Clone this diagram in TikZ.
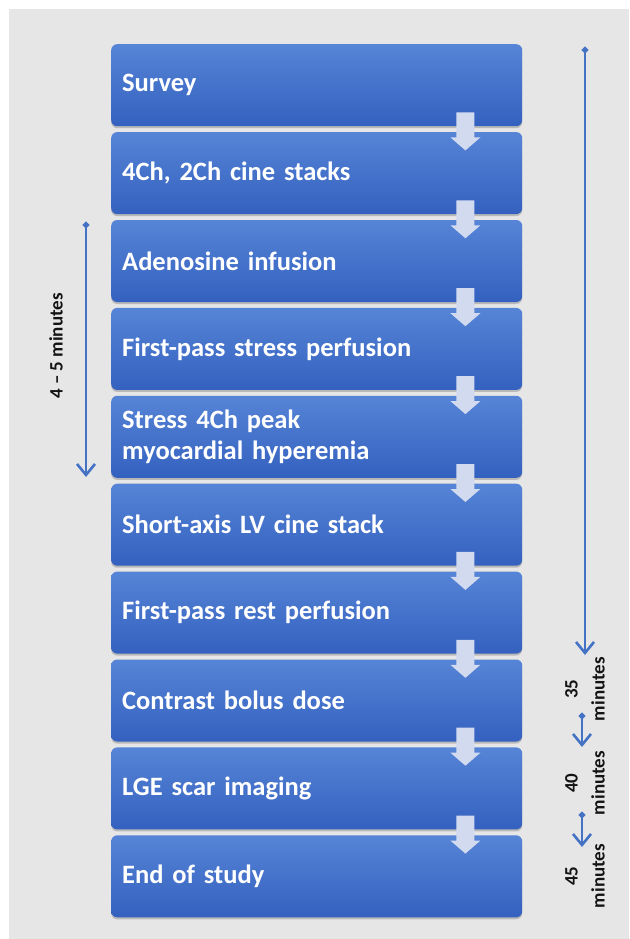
\documentclass[tikz,border=0pt]{standalone}
\usepackage{fontspec}
\setmainfont{Carlito}
\usetikzlibrary{arrows.meta,shadows,calc}
\definecolor{bgc}{HTML}{E6E6E6}
\definecolor{boxtop}{HTML}{5684D6}
\definecolor{boxbot}{HTML}{3461BF}
\definecolor{arrc}{HTML}{D2DAEF}
\definecolor{linec}{HTML}{4472C4}
\definecolor{labc}{HTML}{141414}
\tikzset{
  stepbox/.style={rectangle, rounded corners=6pt, top color=boxtop, bottom color=boxbot,
    minimum width=411pt, minimum height=82pt, text width=389pt, inner xsep=11pt,
    align=left, anchor=north west, text=white,
    font=\fontsize{26.5}{31}\selectfont\bfseries,
    drop shadow={shadow xshift=0pt, shadow yshift=-2pt, opacity=0.35, fill=black!60}},
  blockarr/.style={fill=arrc, draw=none},
  timeline/.style={draw=linec, line width=2.6pt, {Circle[length=6pt]}-{Straight Barb[length=11pt,width=18pt]}},
  timelab/.style={rotate=90, align=center, text=labc, font=\fontsize{19}{27}\selectfont\bfseries}
}
\begin{document}
\begin{tikzpicture}[x=1pt,y=-1pt]
\useasboundingbox (0,0) rectangle (629,939);
\fill[white] (0,0) rectangle (629,939);
\fill[bgc] (9,9) rectangle (629,939);
% boxes
\node[stepbox] (b1) at (111,44) {Survey};
\node[stepbox] (b2) at (111,131.9) {4Ch, 2Ch cine stacks};
\node[stepbox] (b3) at (111,219.8) {Adenosine infusion};
\node[stepbox] (b4) at (111,307.7) {First-pass stress perfusion};
\node[stepbox] (b5) at (111,395.6) {Stress 4Ch peak\\myocardial hyperemia};
\node[stepbox] (b6) at (111,483.5) {Short-axis LV cine stack};
\node[stepbox] (b7) at (111,571.4) {First-pass rest perfusion};
\node[stepbox] (b8) at (111,659.3) {Contrast bolus dose};
\node[stepbox] (b9) at (111,747.2) {LGE scar imaging};
\node[stepbox] (b10) at (111,835.1) {End of study};
% block arrows between boxes
\foreach \i in {1,...,9}{
  \path (b\i.south east) ++(-57,0) coordinate (c\i);
  \fill[blockarr] ($(c\i)+(-9,-14)$) -- ($(c\i)+(9,-14)$) -- ($(c\i)+(9,11)$) -- ($(c\i)+(15,11)$)
    -- ($(c\i)+(0,24)$) -- ($(c\i)+(-15,11)$) -- ($(c\i)+(-9,11)$) -- cycle;
}
% left timeline
\coordinate (L1) at (86,222);
\coordinate (L2) at (86,477);
\draw[timeline] (L1) -- (L2);
\node[timelab] (lab45) at (56,346) {4 – 5 minutes};
% right timelines
\coordinate (R1) at (585,47);
\coordinate (R2) at (585,655);
\draw[timeline] (R1) -- (R2);
\node[timelab] (lab35) at (585,689) {35\\minutes};
\coordinate (S1) at (582,713);
\coordinate (S2) at (582,747);
\draw[timeline] (S1) -- (S2);
\node[timelab] (lab40) at (585,783) {40\\minutes};
\coordinate (T1) at (582,812);
\coordinate (T2) at (582,847);
\draw[timeline] (T1) -- (T2);
\node[timelab] (lab45b) at (585,876) {45\\minutes};
\end{tikzpicture}
\end{document}
